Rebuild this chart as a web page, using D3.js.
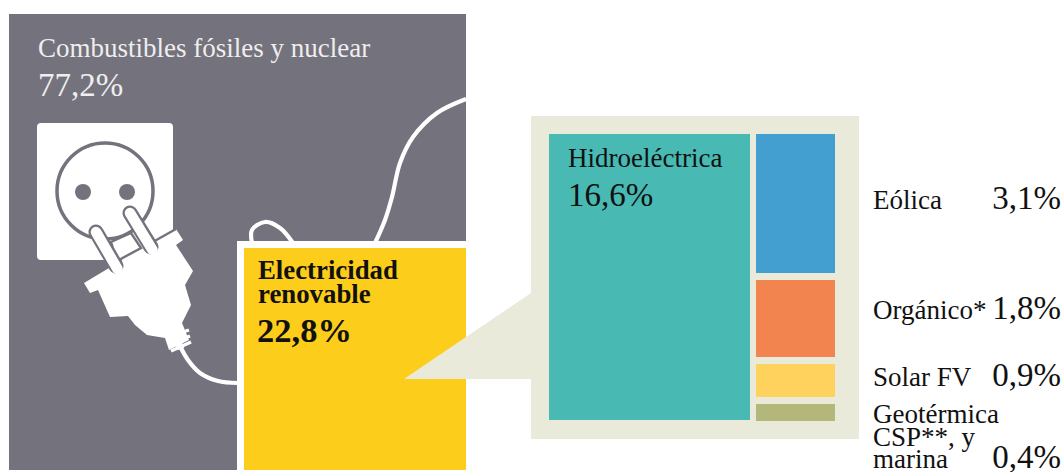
<!DOCTYPE html>
<html><head><meta charset="utf-8"><script src="https://cdn.jsdelivr.net/npm/d3@7"></script>
<style>html,body{margin:0;background:#fff;overflow:hidden}svg{display:block}text{font-family:"Liberation Serif",serif}</style></head>
<body><svg id="c" width="1064" height="472"></svg>
<script>
const shares=["Combustibles fósiles y nuclear","Electricidad renovable"];
const shareValues=[77.2,22.8];
const renewables=["Hidroeléctrica","Eólica","Orgánico*","Solar FV","Geotérmica CSP**, y marina"];
const renewableValues=[16.6,3.1,1.8,0.9,0.4];
const colours=["#48b9b3","#429fcf","#f2854f","#fed25d","#b3b87a"];
const fmt=v=>String(v.toFixed(1)).replace(".",",")+"%";
const svg=d3.select("#c");
const G="#74727c";
svg.append("rect").attr("x",9).attr("y",14).attr("width",457).attr("height",456).attr("fill",G);
// cables (illustration)
const curve=d3.line().curve(d3.curveCatmullRom);
const cable=svg.append("g").attr("fill","none").attr("stroke","#fff").attr("stroke-width",4.2);
cable.append("path").attr("d",curve([[466,99],[437,113],[413,137],[400,163],[392,197],[385,220],[375,243]]));
cable.append("path").attr("d",curve([[252,243],[252,230],[265,222],[280,228],[293,243]]));
cable.append("path").attr("d",curve([[180,346],[188,360],[200,373],[218,381],[238,383]]));
// socket
svg.append("rect").attr("x",37).attr("y",123).attr("width",136).attr("height",137).attr("rx",4).attr("fill","#fff");
svg.append("circle").attr("cx",105).attr("cy",191).attr("r",48).attr("fill","none").attr("stroke",G).attr("stroke-width",3.5);
[83,127].forEach(x=>svg.append("circle").attr("cx",x).attr("cy",192).attr("r",8).attr("fill",G));
// plug body
svg.append("path").attr("fill","#fff")
 .attr("d","M84,283L109,268L176,229L183,240L176,245L193,271L185,285L191,305L182,323L189,340L169,350L165,338L147,335L135,325L128,316L110,317L98,290L90,293Z");
// shoulder outline over the white socket
svg.append("line").attr("x1",151).attr("y1",243).attr("x2",176).attr("y2",229).attr("stroke",G).attr("stroke-width",2.4);
// plug front face between pins
svg.append("path").attr("fill","#fff").attr("stroke",G).attr("stroke-width",2.4).attr("d","M111,242L131,233L141,248L117,261Z");
// pins
[[96,232,116,266],[130,213,151,247]].forEach(p=>{
 svg.append("line").attr("x1",p[0]).attr("y1",p[1]).attr("x2",p[2]).attr("y2",p[3]).attr("stroke",G).attr("stroke-width",15).attr("stroke-linecap","round");
 svg.append("line").attr("x1",p[0]).attr("y1",p[1]).attr("x2",p[2]+1.5).attr("y2",p[3]+3).attr("stroke","#fff").attr("stroke-width",10.5).attr("stroke-linecap","round");
});
// strain-relief ribs
svg.append("path").attr("fill","none").attr("stroke","#fff").attr("stroke-width",3.4)
 .attr("d","M167,337L189,330M169,344L190,336M171,351L191,342");
svg.append("line").attr("x1",173).attr("y1",330).attr("x2",181).attr("y2",349).attr("stroke","#fff").attr("stroke-width",7);
// share labels
svg.append("text").attr("x",38).attr("y",57).attr("font-size",27).attr("fill","#eeeeee").text(shares[0]);
svg.append("text").attr("x",38).attr("y",96).attr("font-size",33).attr("fill","#eeeeee").text(fmt(shareValues[0]));
// yellow
svg.append("rect").attr("x",237).attr("y",241).attr("width",229).attr("height",229).attr("fill","#fff");
svg.append("rect").attr("x",244).attr("y",248).attr("width",222).attr("height",222).attr("fill","#fdcd1b");
const t=svg.append("g").attr("font-weight","bold").attr("fill","#111");
t.append("text").attr("x",258).attr("y",279).attr("font-size",26.8).text("Electricidad");
t.append("text").attr("x",258).attr("y",303).attr("font-size",26.8).text("renovable");
t.append("text").attr("x",257).attr("y",342).attr("font-size",34.5).text(fmt(shareValues[1]));
// panel
svg.append("path").attr("fill","#eaeadb").attr("d","M404,379L531,293V379Z");
svg.append("rect").attr("x",531).attr("y",116).attr("width",328).attr("height",323).attr("fill","#eaeadb");
// proportional marks
const x=d3.scaleLinear().domain([0,16.6,22.8]).range([549,750,829]);
const h=d3.scaleLinear().domain([0,0.4,0.9,1.8,3.1]).range([0,17,33,77,139]);
svg.append("rect").attr("x",x(0)).attr("y",134).attr("width",x(renewableValues[0])-x(0)).attr("height",286).attr("fill",colours[0]);
let y=134;
renewableValues.slice(1).forEach((v,i)=>{
 svg.append("rect").attr("x",x(16.6)+6).attr("y",y).attr("width",x(22.8)-x(16.6)).attr("height",h(v)).attr("fill",colours[i+1]);
 y+=h(v)+7;
});
svg.append("text").attr("x",568).attr("y",167).attr("font-size",27).attr("fill","#111").text(renewables[0]);
svg.append("text").attr("x",568).attr("y",206).attr("font-size",33).attr("fill","#111").text(fmt(renewableValues[0]));
// right labels
const lab=svg.append("g").attr("fill","#111");
const labY=[209,319,386];
[1,2,3].forEach((k,i)=>{
 lab.append("text").attr("x",873).attr("y",labY[i]).attr("font-size",27).text(renewables[k]);
 lab.append("text").attr("x",1061).attr("y",labY[i]).attr("font-size",33).attr("text-anchor","end").text(fmt(renewableValues[k]));
});
[["Geotérmica",423],["CSP**, y",446],["marina",468]].forEach(d=>lab.append("text").attr("x",873).attr("y",d[1]).attr("font-size",27).text(d[0]));
lab.append("text").attr("x",1061).attr("y",468).attr("font-size",33).attr("text-anchor","end").text(fmt(renewableValues[4]));
</script></body></html>
